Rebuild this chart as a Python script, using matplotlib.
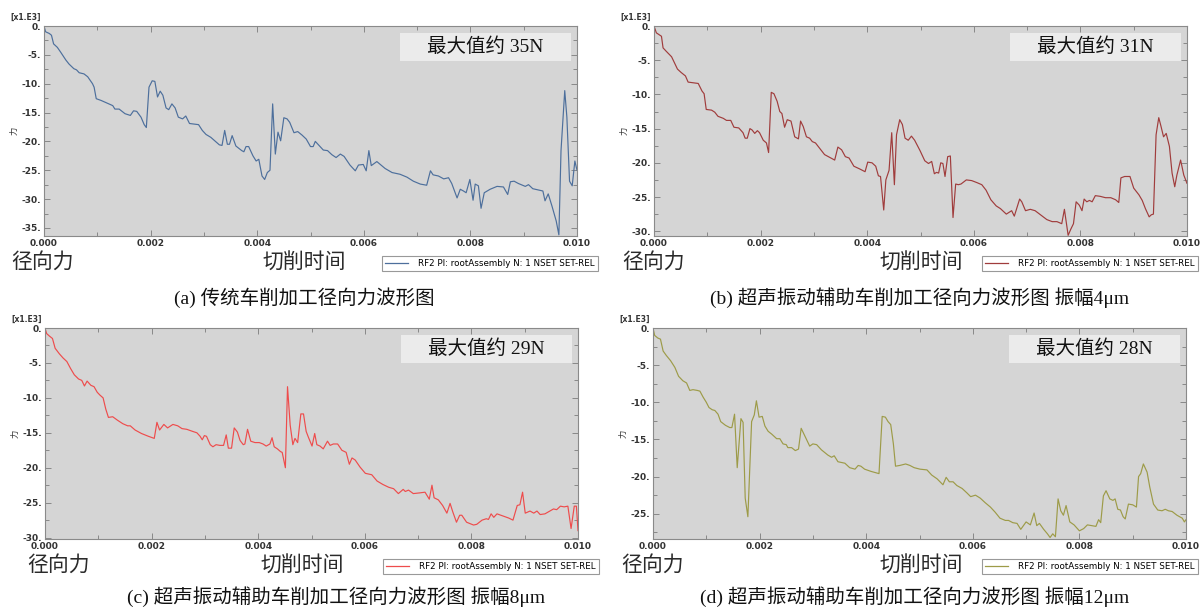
import numpy as np
import matplotlib
matplotlib.use("Agg")
import matplotlib.pyplot as plt
from matplotlib.ticker import MultipleLocator, FuncFormatter
from matplotlib.patches import Rectangle
from matplotlib.lines import Line2D

plt.rcParams['font.family'] = ['DejaVu Sans', 'Noto Sans CJK SC']

# ---- data (time in ms, force in x1000) ----
time_a_ms = [0, 0.03, 0.1, 0.14, 0.18, 0.25, 0.31, 0.41, 0.47, 0.56, 0.61, 0.66, 0.75, 0.82, 0.91,
             0.94, 0.98, 1.07, 1.19, 1.29, 1.33, 1.41, 1.52, 1.62, 1.68, 1.74, 1.82, 1.88, 1.92,
             1.97, 2.03, 2.08, 2.13, 2.18, 2.23, 2.29, 2.34, 2.40, 2.46, 2.52, 2.60, 2.66, 2.73,
             2.82, 2.90, 2.97, 3.04, 3.13, 3.29, 3.34, 3.39, 3.44, 3.48, 3.53, 3.60, 3.71, 3.75,
             3.79, 3.84, 3.92, 3.98, 4.03, 4.09, 4.14, 4.19, 4.24, 4.29, 4.34, 4.39, 4.44, 4.50,
             4.56, 4.61, 4.69, 4.76, 4.84, 4.92, 5.00, 5.05, 5.09, 5.15, 5.24, 5.32, 5.40, 5.48,
             5.56, 5.63, 5.74, 5.84, 5.90, 5.99, 6.045, 6.095, 6.14, 6.245, 6.40, 6.53, 6.68, 6.81,
             6.93, 7.06, 7.18, 7.25, 7.30, 7.40, 7.50, 7.59, 7.65, 7.75, 7.81, 7.87, 7.92, 7.99,
             8.05, 8.09, 8.15, 8.20, 8.26, 8.37, 8.50, 8.62, 8.70, 8.75, 8.82, 8.90, 9.03, 9.09,
             9.17, 9.31, 9.36, 9.40, 9.46, 9.53, 9.61, 9.66, 9.70, 9.77, 9.81, 9.86, 9.91, 9.96, 10.0]
force_a = [0, -1.0, -1.3, -1.6, -3.1, -3.7, -4.5, -5.9, -6.6, -7.4, -7.6, -8.1, -8.3, -8.8, -10.0,
           -10.6, -12.6, -12.9, -13.4, -13.8, -14.4, -14.4, -15.2, -15.5, -14.7, -14.8, -15.8, -17.1, -17.6,
           -10.6, -9.5, -9.6, -12.3, -11.3, -12.0, -14.2, -14.5, -13.5, -14.2, -15.8, -16.1, -15.6, -16.9,
           -17.0, -17.1, -18.1, -18.8, -19.3, -20.6, -20.7, -18.1, -20.5, -20.5, -19.0, -20.8, -21.6, -21.8,
           -20.9, -20.9, -22.5, -23.4, -23.1, -26.0, -26.6, -25.4, -25.0, -13.5, -22.2, -18.4, -19.9, -15.9,
           -16.1, -16.7, -18.5, -18.3, -18.9, -19.6, -20.9, -20.9, -20.0, -20.6, -21.5, -21.6, -22.3, -22.8,
           -22.2, -22.6, -24.1, -25.1, -24.1, -24.0, -25.1, -21.6, -24.2, -23.5, -24.7, -25.4, -25.7, -26.2,
           -26.9, -27.4, -27.6, -25.1, -25.8, -26.0, -26.5, -26.3, -27.3, -29.8, -28.3, -28.6, -28.9, -26.6,
           -30.2, -27.4, -27.7, -31.6, -28.9, -28.3, -27.8, -27.9, -29.2, -27.0, -26.9, -27.3, -27.8, -27.5,
           -28.2, -28.5, -28.6, -30.3, -29.1, -31.2, -33.8, -36.2, -21.6, -11.2, -15.8, -26.9, -27.7, -23.4, -25.0]

time_b_ms = [0, 0.044, 0.14, 0.17, 0.23, 0.33, 0.44, 0.51, 0.59, 0.64, 0.73, 0.83, 0.90, 0.94, 0.98,
             1.08, 1.14, 1.20, 1.30, 1.36, 1.44, 1.50, 1.59, 1.67, 1.71, 1.75, 1.80, 1.84, 1.89,
             1.94, 1.98, 2.05, 2.11, 2.15, 2.20, 2.25, 2.31, 2.36, 2.40, 2.45, 2.50, 2.57, 2.64,
             2.71, 2.75, 2.80, 2.86, 2.92, 2.97, 3.03, 3.11, 3.20, 3.32, 3.39, 3.45, 3.52, 3.59,
             3.66, 3.75, 3.86, 3.96, 4.01, 4.09, 4.16, 4.21, 4.25, 4.31, 4.35, 4.41, 4.46, 4.51,
             4.55, 4.61, 4.66, 4.71, 4.77, 4.83, 4.89, 4.99, 5.08, 5.15, 5.21, 5.26, 5.30, 5.34,
             5.38, 5.42, 5.46, 5.51, 5.56, 5.61, 5.66, 5.71, 5.76, 5.86, 5.96, 6.06, 6.15, 6.23,
             6.32, 6.42, 6.50, 6.61, 6.65, 6.71, 6.76, 6.86, 6.90, 6.97, 7.06, 7.15, 7.25, 7.37,
             7.47, 7.56, 7.65, 7.70, 7.77, 7.82, 7.87, 7.92, 7.98, 8.03, 8.07, 8.12, 8.17, 8.22,
             8.28, 8.37, 8.47, 8.57, 8.66, 8.72, 8.76, 8.83, 8.93, 9.00, 9.10, 9.16, 9.22, 9.29,
             9.33, 9.37, 9.42, 9.47, 9.51, 9.56, 9.61, 9.67, 9.72, 9.77, 9.81, 9.88, 9.94, 10.0]
force_b = [0, -1.0, -1.5, -3.2, -3.7, -4.5, -6.3, -6.8, -7.3, -8.2, -8.3, -8.4, -9.5, -9.9, -12.2,
           -12.3, -12.6, -13.2, -13.5, -13.8, -13.8, -14.8, -14.9, -15.6, -16.4, -16.4, -15.0, -15.2, -15.7,
           -15.3, -15.6, -16.7, -17.1, -18.5, -9.7, -9.9, -11.0, -12.5, -12.8, -14.8, -13.7, -13.9, -16.2,
           -16.5, -13.9, -14.7, -16.2, -16.4, -16.9, -17.1, -17.9, -18.8, -19.3, -19.6, -17.7, -18.1, -19.1,
           -19.3, -20.5, -20.9, -21.3, -19.9, -20.0, -20.5, -21.9, -22.0, -26.9, -22.5, -21.1, -15.6, -23.2,
           -15.9, -13.7, -14.4, -16.4, -16.7, -16.1, -16.7, -18.2, -19.7, -20.1, -19.8, -21.6, -21.4, -21.5,
           -20.0, -20.1, -22.0, -19.1, -19.0, -28.0, -23.1, -23.2, -23.1, -22.5, -22.6, -22.9, -23.2, -24.0,
           -25.4, -26.3, -26.7, -27.5, -27.3, -27.0, -27.8, -25.3, -25.7, -27.0, -26.8, -27.0, -27.6, -28.3,
           -28.6, -28.6, -28.9, -26.8, -30.6, -29.7, -28.9, -25.7, -26.2, -27.0, -25.3, -25.7, -25.5, -25.7,
           -24.8, -24.9, -25.1, -25.1, -25.4, -25.8, -22.2, -22.0, -22.0, -23.7, -24.7, -25.5, -26.7, -27.9,
           -27.6, -27.5, -15.9, -13.4, -14.6, -16.2, -15.7, -17.6, -21.5, -23.5, -21.8, -19.6, -21.8, -23.0]

time_c_ms = [0, 0.031, 0.082, 0.14, 0.19, 0.27, 0.34, 0.41, 0.48, 0.55, 0.63, 0.69, 0.74, 0.79, 0.86,
             0.92, 0.98, 1.03, 1.09, 1.14, 1.19, 1.27, 1.36, 1.46, 1.55, 1.60, 1.69, 1.81, 1.94,
             2.05, 2.10, 2.15, 2.23, 2.30, 2.40, 2.49, 2.57, 2.66, 2.77, 2.85, 2.91, 2.95, 2.99,
             3.03, 3.10, 3.15, 3.21, 3.28, 3.35, 3.40, 3.44, 3.50, 3.55, 3.61, 3.66, 3.72, 3.75,
             3.80, 3.86, 3.94, 4.02, 4.09, 4.15, 4.22, 4.26, 4.30, 4.36, 4.42, 4.45, 4.51, 4.55,
             4.60, 4.65, 4.69, 4.74, 4.80, 4.85, 4.90, 4.94, 5.01, 5.06, 5.10, 5.16, 5.22, 5.30,
             5.35, 5.41, 5.49, 5.57, 5.65, 5.71, 5.76, 5.82, 5.91, 6.01, 6.13, 6.23, 6.34, 6.45,
             6.54, 6.63, 6.72, 6.76, 6.82, 6.91, 7.03, 7.13, 7.21, 7.26, 7.30, 7.38, 7.46, 7.54,
             7.60, 7.65, 7.72, 7.78, 7.82, 7.91, 8.04, 8.10, 8.20, 8.28, 8.32, 8.37, 8.42, 8.48,
             8.59, 8.70, 8.78, 8.86, 8.91, 8.96, 9.01, 9.10, 9.17, 9.23, 9.29, 9.38, 9.47, 9.54,
             9.60, 9.67, 9.74, 9.81, 9.87, 9.93, 9.97, 10.0]
force_c = [0, -0.8, -1.15, -1.5, -2.9, -3.7, -4.3, -4.8, -5.8, -6.7, -7.3, -7.5, -8.3, -7.6, -8.2,
           -8.4, -9.2, -9.6, -10.0, -11.6, -12.8, -12.7, -13.2, -13.7, -14.0, -14.0, -14.6, -15.1, -15.5,
           -15.8, -13.5, -14.6, -13.8, -14.3, -13.8, -14.0, -14.4, -14.5, -14.8, -15.0, -15.5, -16.0, -15.4,
           -15.5, -16.7, -17.0, -16.7, -16.8, -16.8, -15.3, -17.2, -17.2, -14.3, -14.9, -16.1, -16.7, -16.6,
           -14.5, -16.2, -16.4, -16.4, -16.6, -16.9, -16.6, -15.7, -17.0, -17.3, -17.7, -17.8, -20.0, -8.4,
           -13.9, -16.7, -15.8, -16.4, -12.3, -12.3, -14.8, -15.6, -16.9, -15.1, -16.7, -16.9, -17.3, -16.2,
           -16.8, -16.6, -16.6, -17.5, -17.8, -19.5, -18.6, -18.9, -19.9, -20.8, -21.0, -21.9, -22.4, -22.8,
           -23.0, -23.7, -23.1, -23.4, -23.2, -23.7, -23.6, -23.5, -24.5, -22.5, -24.3, -24.6, -25.4, -26.5,
           -25.1, -26.3, -27.8, -26.8, -26.8, -27.8, -28.2, -28.1, -27.5, -27.3, -27.4, -26.6, -27.1, -26.6,
           -26.9, -27.2, -27.5, -25.4, -25.3, -23.5, -26.5, -26.2, -26.5, -26.2, -26.7, -26.6, -26.2, -25.9,
           -26.0, -25.5, -25.6, -25.5, -28.7, -25.5, -25.5, -29.0]

time_d_ms = [0, 0.031, 0.09, 0.14, 0.19, 0.25, 0.33, 0.41, 0.48, 0.56, 0.63, 0.69, 0.75, 0.83, 0.88,
             0.94, 1.00, 1.05, 1.11, 1.16, 1.22, 1.27, 1.36, 1.44, 1.48, 1.53, 1.58, 1.65, 1.69,
             1.73, 1.78, 1.85, 1.90, 1.94, 1.99, 2.05, 2.10, 2.16, 2.23, 2.32, 2.38, 2.44, 2.50,
             2.53, 2.60, 2.67, 2.73, 2.78, 2.86, 2.94, 3.00, 3.07, 3.16, 3.28, 3.35, 3.40, 3.47,
             3.60, 3.69, 3.79, 3.85, 3.90, 3.97, 4.09, 4.19, 4.24, 4.30, 4.36, 4.41, 4.46, 4.51,
             4.55, 4.63, 4.74, 4.82, 4.90, 5.01, 5.14, 5.23, 5.33, 5.44, 5.50, 5.56, 5.63, 5.70,
             5.80, 5.89, 5.96, 6.05, 6.14, 6.23, 6.33, 6.42, 6.51, 6.61, 6.67, 6.75, 6.83, 6.90,
             7.00, 7.08, 7.15, 7.20, 7.25, 7.33, 7.40, 7.45, 7.50, 7.55, 7.60, 7.65, 7.70, 7.75,
             7.82, 7.90, 8.00, 8.08, 8.15, 8.23, 8.31, 8.36, 8.40, 8.45, 8.50, 8.57, 8.63, 8.67,
             8.72, 8.77, 8.82, 8.86, 8.92, 9.00, 9.07, 9.11, 9.15, 9.20, 9.27, 9.32, 9.39, 9.47,
             9.55, 9.61, 9.67, 9.74, 9.83, 9.93, 9.97, 10.0]
force_d = [0, -1.0, -1.35, -1.5, -3.1, -3.7, -4.4, -5.3, -6.5, -7.1, -7.4, -8.4, -8.3, -8.4, -8.5,
           -9.3, -10.0, -10.7, -11.0, -11.1, -11.6, -12.6, -13.1, -13.4, -13.4, -11.6, -18.8, -12.2, -12.7,
           -22.9, -25.4, -12.6, -11.7, -9.8, -12.0, -11.9, -13.2, -13.9, -14.3, -14.9, -14.9, -15.6, -15.7,
           -16.1, -16.1, -16.5, -16.3, -13.5, -14.7, -15.9, -15.6, -15.7, -16.4, -17.1, -17.4, -17.2, -18.0,
           -18.2, -18.8, -19.0, -18.5, -18.6, -19.0, -19.3, -19.5, -19.6, -11.9, -12.0, -12.6, -13.0, -15.6,
           -18.6, -18.5, -18.3, -18.5, -18.8, -19.0, -19.1, -19.8, -20.3, -21.1, -20.1, -20.7, -20.7, -21.2,
           -21.6, -22.2, -22.7, -22.5, -22.9, -23.5, -24.1, -24.8, -25.6, -25.9, -25.9, -26.2, -26.3, -27.1,
           -26.1, -26.5, -24.9, -26.6, -26.3, -27.1, -27.7, -28.2, -27.7, -28.1, -23.0, -24.6, -25.2, -23.9,
           -26.1, -26.5, -27.3, -27.0, -26.5, -26.6, -26.7, -25.8, -26.2, -22.6, -21.9, -23.0, -23.2, -23.0,
           -24.4, -24.5, -25.4, -25.7, -23.7, -23.8, -24.1, -20.0, -19.6, -18.3, -19.4, -21.4, -23.7, -24.5,
           -24.6, -24.4, -24.6, -24.7, -25.2, -25.6, -26.1, -25.8]

panel_times = [time_a_ms, time_b_ms, time_c_ms, time_d_ms]
panel_forces = [force_a, force_b, force_c, force_d]
panel_colors = ['#4d6f9c', '#a03c3c', '#ee4c4c', '#9d9b48']
panel_ylims = [(-36.4, 0), (-30.7, 0), (-30.2, 0), (-28.4, 0)]
max_labels = ['最大值约 35N', '最大值约 31N', '最大值约 29N', '最大值约 28N']
captions = ['(a) 传统车削加工径向力波形图',
            '(b) 超声振动辅助车削加工径向力波形图 振幅4μm',
            '(c) 超声振动辅助车削加工径向力波形图 振幅8μm',
            '(d) 超声振动辅助车削加工径向力波形图 振幅12μm']
legend_text = 'RF2 PI: rootAssembly N: 1 NSET SET-REL'

W, H = 1200, 609
fig = plt.figure(figsize=(12, 6.09), dpi=100)

# axes boxes in pixels: left, top, right, bottom
boxes = [(44, 26, 577, 236), (654, 26, 1187, 236),
         (45, 328, 578, 539), (653, 328, 1186, 539)]
# pixel positions of the labels under each axes
radial_x = [11, 622, 27, 621]
time_x = [304, 921, 302, 921]
legend_x = [382, 982, 383, 982]
caption_xy = [(304, 298), (920, 298), (336, 597), (915, 597)]

serif_cjk = ['Liberation Serif', 'Noto Sans CJK SC']
sans_cjk = ['Noto Sans CJK SC', 'DejaVu Sans']

for i, (l, t, r, b) in enumerate(boxes):
    ax = fig.add_axes([l / W, 1 - b / H, (r - l) / W, (b - t) / H])
    ax.set_facecolor('#d5d5d5')
    tt = np.array(panel_times[i]) * 1e-3
    ax.plot(tt, panel_forces[i], color=panel_colors[i], lw=0.85)
    ax.set_xlim(0, 0.010)
    ax.set_ylim(*panel_ylims[i])

    ax.xaxis.set_major_locator(MultipleLocator(0.002))
    ax.xaxis.set_minor_locator(MultipleLocator(0.001))
    ax.yaxis.set_major_locator(MultipleLocator(5))
    ax.yaxis.set_minor_locator(MultipleLocator(2.5))
    ax.xaxis.set_major_formatter(FuncFormatter(lambda v, p: f"{v:.3f}"))
    ax.yaxis.set_major_formatter(FuncFormatter(lambda v, p: f"{int(round(v))}."))
    ax.tick_params(which='both', direction='in', top=True, right=True,
                   color='#888888', labelsize=6.5, labelcolor='#333333', pad=2)
    ax.tick_params(which='major', length=4, width=0.7)
    ax.tick_params(which='minor', length=3, width=0.7)
    for lab in ax.get_xticklabels() + ax.get_yticklabels():
        lab.set_fontweight('bold')
    for s in ax.spines.values():
        s.set_color('#8a8a8a')
        s.set_linewidth(0.8)

    # max value box
    ax.add_patch(Rectangle((0.668, 0.835), 0.32, 0.133, transform=ax.transAxes,
                           facecolor='#ebebeb', edgecolor='none', zorder=3))
    ax.text(0.828, 0.9, max_labels[i], transform=ax.transAxes, ha='center', va='center',
            fontsize=14, family=serif_cjk, color='#111111', zorder=4)

    # small labels from the plot program
    fig.text((l - 34) / W, 1 - (t - 9) / H, '[x1.E3]', fontsize=5.5, fontweight='bold',
             color='#333333', ha='left', va='center')
    fig.text((l - 30) / W, 1 - ((t + b) / 2) / H, '力', fontsize=6, rotation=90,
             family=sans_cjk, ha='center', va='center', color='#333333')

    # big labels under the axes
    fig.text(radial_x[i] / W, 1 - (b + 26) / H, '径向力', fontsize=15, family=sans_cjk,
             ha='left', va='center', color='#2a2a2a')
    fig.text(time_x[i] / W, 1 - (b + 26) / H, '切削时间', fontsize=15, family=sans_cjk,
             ha='center', va='center', color='#2a2a2a')

    # legend
    h = Line2D([], [], color=panel_colors[i], lw=0.9)
    leg = fig.legend([h], [legend_text], loc='upper left',
                     bbox_to_anchor=(legend_x[i] / W, 1 - (b + 20) / H),
                     fontsize=6.3, frameon=True, fancybox=False, edgecolor='#999999',
                     framealpha=1, borderpad=0.35, handlelength=2.6, handletextpad=1.2,
                     borderaxespad=0)
    leg.get_frame().set_linewidth(0.8)

    # caption
    cx, cy = caption_xy[i]
    fig.text(cx / W, 1 - cy / H, captions[i], fontsize=14, family=serif_cjk,
             ha='center', va='center', color='#111111')

fig.savefig('out.png', dpi=100)
